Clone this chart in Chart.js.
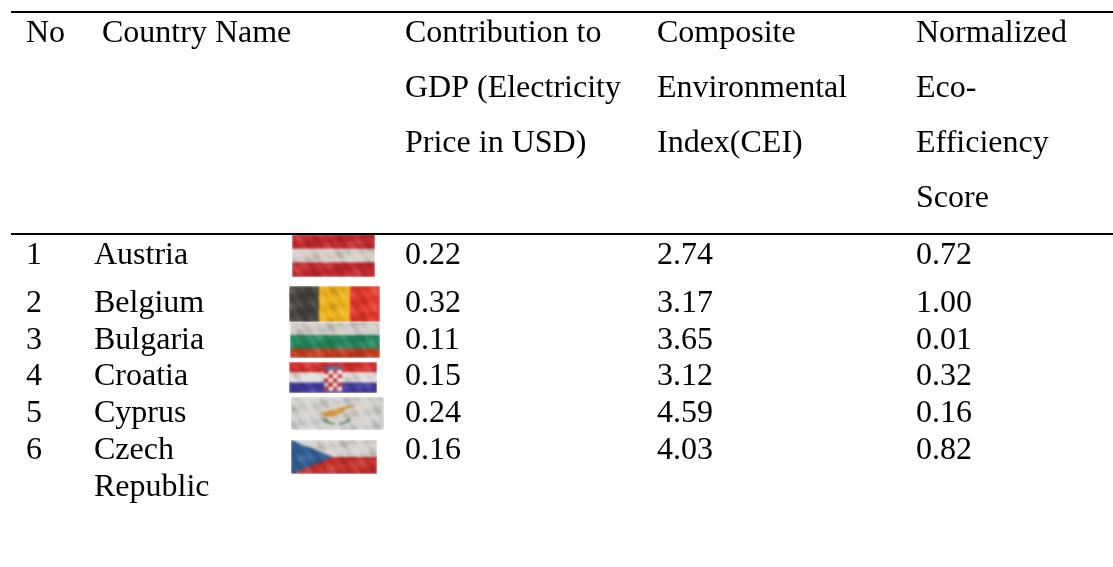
<!DOCTYPE html>
<html>
<head>
<meta charset="utf-8">
<title>Eco-efficiency table</title>
<script src="https://cdn.jsdelivr.net/npm/chart.js@4"></script>
<style>
  html, body { margin: 0; padding: 0; background: #fff; }
  #wrap { width: 1113px; height: 567px; }
</style>
</head>
<body>
<div id="wrap"><canvas id="myChart" width="1113" height="567"></canvas></div>
<script>
// table contents
var headNo = ['No'];
var headCountry = ['Country Name'];
var headGdp = ['Contribution to', 'GDP (Electricity', 'Price in USD)'];
var headCei = ['Composite', 'Environmental', 'Index(CEI)'];
var headScore = ['Normalized', 'Eco-', 'Efficiency', 'Score'];

var rowNumbers = ['1', '2', '3', '4', '5', '6'];
var countries = ['Austria', 'Belgium', 'Bulgaria', 'Croatia', 'Cyprus', 'Czech'];
var countryExtra = ['Republic'];
var gdpValues = [0.22, 0.32, 0.11, 0.15, 0.24, 0.16];
var ceiValues = [2.74, 3.17, 3.65, 3.12, 4.59, 4.03];
var scoreValues = [0.72, 1.00, 0.01, 0.32, 0.16, 0.82];

// layout, in the pixel units of the two hidden axes
var headBase = [42, 97, 152, 207];
var rowBase = [264, 312, 348.5, 385, 422, 459];
var extraBase = [495.5];
var colX = { no: 26, head: 102, name: 94, gdp: 405, cei: 657, score: 916 };

function cells(x, bases, texts) {
  return {
    type: 'scatter',
    data: texts.map(function (t, i) { return { x: x, y: bases[i] }; }),
    cellText: texts,
    pointRadius: 0,
    showLine: false
  };
}

function fix2(list) {
  return list.map(function (v) { return v.toFixed(2); });
}

var flags = [
  { box: [292, 234, 83, 43], dir: 'h', bands: [[0.34, '#c1272d'], [0.32, '#d6d0cb'], [0.34, '#c1272d']] },
  { box: [289, 286, 91, 36], dir: 'v', bands: [[0.33, '#45413d'], [0.34, '#eeb21c'], [0.33, '#e2382c']] },
  { box: [290, 322, 90, 36], dir: 'h', bands: [[0.36, '#d2ccc8'], [0.38, '#23875a'], [0.26, '#c33a1e']] },
  { box: [289, 362, 88, 31], dir: 'h', bands: [[0.33, '#d32f2f'], [0.33, '#e4dfdc'], [0.34, '#3f3a9c']] },
  { box: [291, 397, 93, 33], dir: 'h', bands: [[1, '#d5d3d0']] },
  { box: [291, 440, 86, 34], dir: 'h', bands: [[0.5, '#d6d2ce'], [0.5, '#c4302b']] }
];

function paintFlag(main, f, idx) {
  var b = f.box;
  var sheet = document.createElement('canvas');
  sheet.width = b[2];
  sheet.height = b[3];
  var ctx = sheet.getContext('2d');
  var pos = 0;
  f.bands.forEach(function (band) {
    ctx.fillStyle = band[1];
    if (f.dir === 'h') ctx.fillRect(0, pos * b[3], b[2], band[0] * b[3] + 1);
    else ctx.fillRect(pos * b[2], 0, band[0] * b[2] + 1, b[3]);
    pos += band[0];
  });
  if (idx === 3) {
    // crest
    var cx = 44;
    for (var r = 0; r < 5; r++) {
      for (var c = 0; c < 4; c++) {
        ctx.fillStyle = (r + c) % 2 ? '#f1e6e2' : '#c8343c';
        ctx.fillRect(cx - 9 + c * 4.5, 8 + r * 4.2, 4.5, 4.2);
      }
    }
    ctx.fillStyle = '#6b6a90';
    ctx.fillRect(cx - 9, 4, 18, 4);
  }
  if (idx === 4) {
    // island and the olive branches
    ctx.fillStyle = '#d0923a';
    ctx.beginPath();
    ctx.moveTo(29, 16);
    ctx.lineTo(44, 12);
    ctx.lineTo(51, 10);
    ctx.lineTo(67, 7);
    ctx.lineTo(54, 13);
    ctx.lineTo(47, 18);
    ctx.lineTo(36, 20);
    ctx.closePath();
    ctx.fill();
    ctx.strokeStyle = '#6f9c80';
    ctx.lineWidth = 2.5;
    ctx.beginPath();
    ctx.moveTo(33, 22);
    ctx.quadraticCurveTo(38, 27, 44, 27);
    ctx.moveTo(59, 22);
    ctx.quadraticCurveTo(54, 27, 48, 27);
    ctx.stroke();
  }
  if (idx === 5) {
    ctx.fillStyle = '#2f5c92';
    ctx.beginPath();
    ctx.moveTo(0, 0);
    ctx.lineTo(42, b[3] * 0.5);
    ctx.lineTo(0, b[3]);
    ctx.closePath();
    ctx.fill();
  }
  // worn look of the cloth
  for (var y = 0; y < b[3]; y += 2) {
    for (var x = 0; x < b[2]; x += 2) {
      var w = (Math.sin(x * 0.23 + idx) + Math.sin(y * 0.41 + x * 0.07) + Math.sin(x * 0.53 - y * 0.37 + idx * 2)) / 3;
      ctx.fillStyle = w > 0 ? 'rgba(255,255,255,' + (w * 0.18) + ')' : 'rgba(0,0,0,' + (-w * 0.18) + ')';
      ctx.fillRect(x, y, 2, 2);
    }
  }
  main.save();
  main.beginPath();
  main.rect(b[0], b[1], b[2], b[3]);
  main.clip();
  main.filter = 'blur(1px)';
  main.drawImage(sheet, b[0], b[1]);
  main.restore();
}

var tablePlugin = {
  id: 'tablePlugin',
  afterDatasetsDraw: function (chart) {
    var ctx = chart.ctx;
    var xs = chart.scales.x;
    var ys = chart.scales.y;

    // flags
    flags.forEach(function (f, i) { paintFlag(ctx, f, i); });

    // top rule and the rule under the header
    ctx.save();
    ctx.strokeStyle = '#000';
    ctx.lineWidth = 2;
    [12, 234].forEach(function (v) {
      ctx.beginPath();
      ctx.moveTo(xs.getPixelForValue(11), ys.getPixelForValue(v));
      ctx.lineTo(xs.getPixelForValue(1113), ys.getPixelForValue(v));
      ctx.stroke();
    });
    ctx.restore();

    // every cell text sits on its own scatter point
    ctx.save();
    ctx.fillStyle = '#000';
    ctx.font = '32px "Liberation Serif"';
    ctx.textAlign = 'left';
    ctx.textBaseline = 'alphabetic';
    chart.data.datasets.forEach(function (ds, i) {
      chart.getDatasetMeta(i).data.forEach(function (pt, j) {
        ctx.fillText(ds.cellText[j], pt.x, pt.y);
      });
    });
    ctx.restore();
  }
};

var ctx = document.getElementById('myChart');
var myChart = new Chart(ctx, {
  type: 'scatter',
  data: {
    datasets: [
      cells(colX.no, headBase, headNo),
      cells(colX.head, headBase, headCountry),
      cells(colX.gdp, headBase, headGdp),
      cells(colX.cei, headBase, headCei),
      cells(colX.score, headBase, headScore),
      cells(colX.no, rowBase, rowNumbers),
      cells(colX.name, rowBase, countries),
      cells(colX.name, extraBase, countryExtra),
      cells(colX.gdp, rowBase, fix2(gdpValues)),
      cells(colX.cei, rowBase, fix2(ceiValues)),
      cells(colX.score, rowBase, fix2(scoreValues))
    ]
  },
  options: {
    responsive: false,
    animation: false,
    layout: { padding: 0 },
    plugins: { legend: { display: false }, tooltip: { enabled: false } },
    scales: {
      x: { type: 'linear', min: 0, max: 1113, display: false },
      y: { type: 'linear', min: 0, max: 567, reverse: true, display: false }
    }
  },
  plugins: [tablePlugin]
});
</script>
</body>
</html>
